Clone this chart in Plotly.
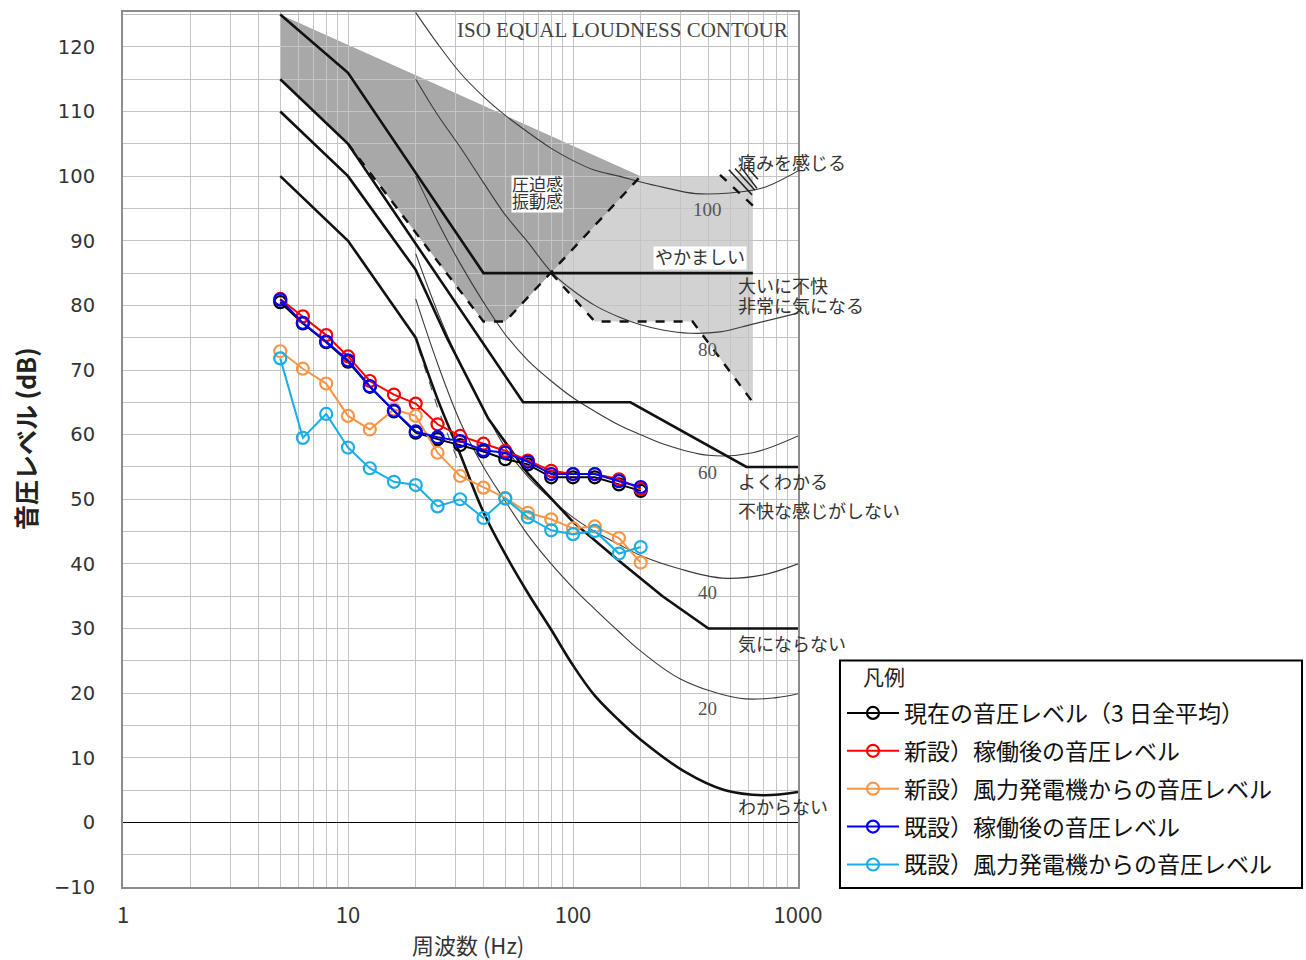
import numpy as np
import plotly.graph_objects as go

CJK = "Noto Sans CJK JP"
SERIF = "Liberation Serif, Noto Sans CJK JP"

# 1/3-octave band centre frequencies (Hz)
freq = [5, 6.3, 8, 10, 12.5, 16, 20, 25, 31.5, 40, 50, 63, 80, 100, 125, 160, 200]

# Sound pressure levels per band (dB)
spl_current = [80.5, 77.2, 74.3, 71.3, 67.4, 63.6, 60.3, 59.3, 58.4, 57.4, 56.2, 55.4, 53.4, 53.4, 53.4, 52.3, 51.3]
spl_new_total = [81.0, 78.3, 75.4, 72.1, 68.3, 66.2, 64.8, 61.6, 59.8, 58.6, 57.5, 56.0, 54.4, 53.9, 53.9, 53.1, 51.6]
spl_new_turbine = [72.9, 70.2, 67.9, 62.9, 60.8, 63.9, 62.9, 57.2, 53.6, 51.8, 50.2, 47.9, 46.9, 45.5, 45.8, 44.0, 40.2]
spl_old_total = [80.9, 77.3, 74.4, 71.5, 67.5, 63.7, 60.5, 59.6, 59.0, 57.6, 57.2, 55.8, 53.9, 53.9, 53.9, 52.8, 51.9]
spl_old_turbine = [71.8, 59.5, 63.2, 58.0, 54.8, 52.7, 52.2, 48.9, 50.0, 47.1, 50.1, 47.2, 45.2, 44.6, 45.1, 41.6, 42.6]

series_names = [
    "現在の音圧レベル（3 日全平均）",
    "新設）稼働後の音圧レベル",
    "新設）風力発電機からの音圧レベル",
    "既設）稼働後の音圧レベル",
    "既設）風力発電機からの音圧レベル",
]
series_values = [spl_current, spl_new_total, spl_new_turbine, spl_old_total, spl_old_turbine]
series_colors = ["#000000", "#ff0000", "#f79646", "#0000ff", "#1aaee6"]

# Psychological response criteria (thick lines)
yakamashii_f = [5, 10, 40, 630]
yakamashii_db = [125, 116, 85, 85]
yokuwakaru_f = [5, 10, 60, 180, 590, 1000]
yokuwakaru_db = [115, 105, 65, 65, 55, 55]
kininaranai_f = [5, 10, 20, 27.5, 42, 63, 100, 160, 250, 400, 1000]
kininaranai_db = [110, 100, 85.5, 75, 62.5, 54, 46.5, 40.5, 35, 30, 30]
wakaranai_low_f = [5, 10, 20]
wakaranai_low_db = [100, 90, 75]
wakaranai_f = [20, 25, 31.5, 40, 50, 63, 80, 100, 125, 160, 200, 315, 470, 700, 1000]
wakaranai_db = [75, 65.5, 57, 48, 41.5, 35.5, 29.8, 24.3, 19.6, 15.8, 12.8, 7.8, 5.0, 4.2, 4.7]

# Oppression / vibration zone boundaries (dashed)
oppression_f = [10, 40, 50, 200]
oppression_db = [105, 77.5, 77.5, 100]
annoyance_f = [80, 125, 340, 630]
annoyance_db = [85, 77.5, 77.5, 65]
pain_f = [450, 650]
pain_db = [100.2, 95.0]
pain_hatch = [
    ((493, 101.0), (625, 97.1)),
    ((525, 101.2), (644, 97.8)),
    ((558, 101.4), (657, 98.1)),
    ((593, 101.4), (664, 99.5)),
]

# Shaded zones
dark_zone_f = [5, 200, 80, 50, 40, 10, 5]
dark_zone_db = [125, 100, 85, 77.5, 77.5, 105, 115]
light_zone_f = [200, 630, 630, 340, 125, 80]
light_zone_db = [100, 100, 65, 77.5, 77.5, 85]

# Equal loudness contours (phon)
contour_f = {
    100: [20, 25, 31.5, 40, 50, 63, 80, 100, 125, 160, 200, 250, 350, 500, 700, 1000],
    80: [20, 25, 31.5, 40, 50, 63, 80, 100, 125, 160, 200, 250, 330, 450, 630, 1000],
    60: [20, 25, 31.5, 40, 50, 63, 80, 100, 125, 160, 200, 250, 400, 630, 1000],
    40: [20, 25, 31.5, 40, 50, 63, 80, 100, 125, 160, 200, 300, 460, 700, 1000],
    20: [20, 25, 31.5, 40, 50, 63, 80, 100, 125, 160, 200, 300, 550, 800, 1000],
}
contour_db = {
    100: [125.3, 120.5, 116.0, 112.3, 109.4, 106.8, 104.3, 102.4, 100.9, 100.0, 99.1, 98.3, 97.3, 97.4, 98.2, 100.8],
    80: [115, 109.5, 104.5, 99, 94, 89.8, 85.2, 82.3, 80.0, 78.2, 77.0, 76.2, 75.7, 75.9, 77.1, 78.8],
    60: [100, 93, 86.5, 80.5, 75.5, 71.5, 68.3, 65.7, 63.6, 61.5, 60, 58.6, 56.8, 57.2, 59.8],
    40: [88, 79, 71, 64, 58, 53.5, 50, 47.2, 45, 43, 41.3, 39.2, 37.8, 38.3, 40],
    20: [81, 71, 62, 55, 49.7, 44.5, 40, 36.3, 33, 29.5, 26.5, 22.2, 19.2, 19.3, 19.9],
}
contour_label_f = 398
contour_label_db = {100: 94.8, 80: 73.2, 60: 54.1, 40: 35.5, 20: 17.6}

aux_dash_f = [20.5, 25, 31.5]
aux_dash_db = [73.5, 64.2, 55.0]

x_major = [1, 10, 100, 1000]
x_minor = [m * d for d in (1, 10, 100) for m in range(2, 10)]
y_ticks = list(range(-10, 121, 10))

fig = go.Figure()


def path_of(fs, dbs):
    return "M " + " L ".join(f"{f},{d}" for f, d in zip(fs, dbs)) + " Z"


shapes = [
    dict(type="path", path=path_of(light_zone_f, light_zone_db), xref="x", yref="y",
         fillcolor="#d2d2d2", line=dict(width=0), layer="below"),
    dict(type="path", path=path_of(dark_zone_f, dark_zone_db), xref="x", yref="y",
         fillcolor="#a8a8a8", line=dict(width=0), layer="below"),
    # legend frame
    dict(type="rect", xref="paper", yref="paper", x0=1.0622, x1=1.7467, y0=-0.0011, y1=0.2588,
         line=dict(color="black", width=2), fillcolor="rgba(0,0,0,0)", layer="above"),
]

THIN = dict(color="#3a3a3a", width=1.1)
THICK = dict(color="#111111", width=2.6)

for phon in (100, 80, 60, 40, 20):
    fig.add_trace(go.Scatter(x=contour_f[phon], y=contour_db[phon], mode="lines",
                             line=dict(shape="spline", smoothing=1.0, **THIN),
                             showlegend=False, hoverinfo="skip"))

fig.add_trace(go.Scatter(x=aux_dash_f, y=aux_dash_db, mode="lines",
                         line=dict(color="#555555", width=1.1, dash="dash"),
                         showlegend=False, hoverinfo="skip"))

for fs, dbs in ((yakamashii_f, yakamashii_db), (yokuwakaru_f, yokuwakaru_db),
                (kininaranai_f, kininaranai_db), (wakaranai_low_f, wakaranai_low_db)):
    fig.add_trace(go.Scatter(x=fs, y=dbs, mode="lines", line=THICK,
                             showlegend=False, hoverinfo="skip"))
fig.add_trace(go.Scatter(x=wakaranai_f, y=wakaranai_db, mode="lines",
                         line=dict(shape="spline", smoothing=1.0, **THICK),
                         showlegend=False, hoverinfo="skip"))

for fs, dbs in ((oppression_f, oppression_db), (annoyance_f, annoyance_db), (pain_f, pain_db)):
    fig.add_trace(go.Scatter(x=fs, y=dbs, mode="lines",
                             line=dict(color="#111111", width=2.4, dash="dash"),
                             showlegend=False, hoverinfo="skip"))
for (f0, d0), (f1, d1) in pain_hatch:
    fig.add_trace(go.Scatter(x=[f0, f1], y=[d0, d1], mode="lines",
                             line=dict(color="#222222", width=1.5),
                             showlegend=False, hoverinfo="skip"))

for i, (name, vals, col) in enumerate(zip(series_names, series_values, series_colors)):
    fig.add_trace(go.Scatter(
        x=freq, y=vals, mode="lines+markers", name=name, legendgroup=f"g{i}",
        line=dict(color=col, width=2),
        marker=dict(symbol="circle-open", size=12, color=col, line=dict(width=2.2, color=col)),
    ))

lx = np.log10
LBL = dict(family=SERIF, size=18, color="#333")

annotations = [
    dict(x=lx(921), y=122.6, text="ISO EQUAL LOUDNESS CONTOUR", xanchor="right", yanchor="middle",
         showarrow=False, font=dict(family=SERIF, size=21, color="#444")),
    dict(x=lx(69.2), y=98.5, text="圧迫感", showarrow=False, bgcolor="white",
         borderpad=0, font=dict(family=SERIF, size=17, color="#333")),
    dict(x=lx(69.2), y=95.9, text="振動感", showarrow=False, bgcolor="white",
         borderpad=0, font=dict(family=SERIF, size=17, color="#333")),
    dict(x=lx(367), y=87.4, text="やかましい", showarrow=False, bgcolor="white",
         borderpad=1, font=LBL),
    dict(x=lx(530), y=101.9, text="痛みを感じる", xanchor="left", showarrow=False, font=LBL),
    dict(x=lx(530), y=82.9, text="大いに不快", xanchor="left", showarrow=False, font=LBL),
    dict(x=lx(530), y=79.8, text="非常に気になる", xanchor="left", showarrow=False, font=LBL),
    dict(x=lx(530), y=52.5, text="よくわかる", xanchor="left", showarrow=False, font=LBL),
    dict(x=lx(530), y=48.0, text="不快な感じがしない", xanchor="left", showarrow=False, font=LBL),
    dict(x=lx(530), y=27.5, text="気にならない", xanchor="left", showarrow=False, font=LBL),
    dict(x=lx(530), y=2.2, text="わからない", xanchor="left", showarrow=False, font=LBL),
    dict(xref="paper", yref="paper", x=-0.1452, y=0.513, text="<b>音圧レベル (dB)</b>", textangle=-90,
         xanchor="center", yanchor="middle",
         showarrow=False, font=dict(family=CJK, size=25, color="#222")),
    dict(xref="paper", yref="paper", x=0.511, y=(887 - 944) / 877, text="周波数 (Hz)",
         xanchor="center", yanchor="middle",
         showarrow=False, font=dict(family=CJK, size=22, color="#333")),
    dict(xref="paper", yref="paper", x=(884 - 123) / 675, y=(887 - 676) / 877, text="凡例",
         xanchor="center", yanchor="middle",
         showarrow=False, font=dict(family=CJK, size=21, color="#222")),
]
for phon, db in contour_label_db.items():
    annotations.append(dict(x=lx(contour_label_f), y=db, text=str(phon), showarrow=False,
                            font=dict(family=SERIF, size=19, color="#555")))

fig.update_layout(
    width=1306, height=960,
    margin=dict(l=123, r=508, t=10, b=73),
    paper_bgcolor="white", plot_bgcolor="white",
    shapes=shapes,
    annotations=annotations,
    showlegend=True,
    legend=dict(
        x=(842 - 123) / 675, y=(887 - 691) / 877, xanchor="left", yanchor="top",
        borderwidth=0, bgcolor="rgba(0,0,0,0)",
        font=dict(family=CJK, size=23, color="#111"),
        tracegroupgap=5, itemwidth=52,
    ),
    xaxis=dict(
        type="log", range=[0, 3], tickvals=x_major, ticktext=[str(v) for v in x_major],
        showgrid=True, gridcolor="#c4c4c4", gridwidth=1.3,
        minor=dict(tickvals=x_minor, showgrid=True, gridcolor="#c4c4c4", gridwidth=1.3),
        showline=True, mirror=True, linecolor="#8c8c8c", linewidth=2,
        ticks="", ticklabelstandoff=8,
        tickfont=dict(family=CJK, size=22, color="#333"), zeroline=False,
    ),
    yaxis=dict(
        range=[-10, 125.4], tickvals=y_ticks,
        showgrid=True, gridcolor="#c4c4c4", gridwidth=1.3,
        minor=dict(dtick=5, showgrid=True, gridcolor="#c4c4c4", gridwidth=1.3),
        showline=True, mirror=True, linecolor="#8c8c8c", linewidth=2,
        ticks="", ticklabelstandoff=22,
        tickfont=dict(family="DejaVu Sans", size=19.5, color="#333"),
        zeroline=True, zerolinecolor="#000000", zerolinewidth=1.2,
    ),
)

fig.write_html("out.html")
